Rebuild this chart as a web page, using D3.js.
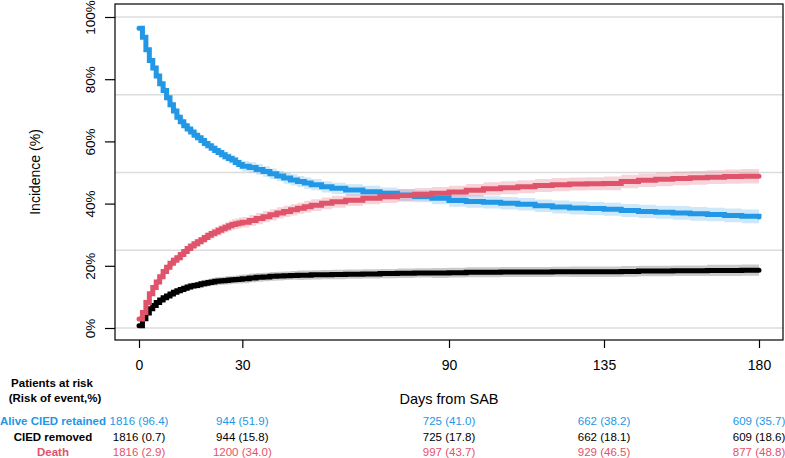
<!DOCTYPE html>
<html>
<head>
<meta charset="utf-8">
<script src="https://cdn.jsdelivr.net/npm/d3@7"></script>
<style>
  body { margin: 0; background: #fff; }
  svg { font-family: "Liberation Sans", Arial, Helvetica, sans-serif; }
</style>
</head>
<body>
<script>
const days = [0, 1, 2, 3, 4, 5, 6, 7, 8, 9, 10, 11, 12, 13, 14, 15, 16, 17, 18, 19, 20, 21, 22, 23, 24, 25, 26, 27, 28, 29, 30,
  32, 34, 36, 38, 40, 42, 44, 46, 48, 50, 53, 56, 60,
  65, 70, 75, 80, 85, 90, 95, 100, 105, 110, 115, 120, 125, 130, 135, 140, 145, 150, 155, 160, 165, 170, 175, 180]

// cumulative incidence (%) per state
const alive = [96.4, 93.5, 89.5, 86, 83.6, 81, 78.5, 76.4, 74, 71.8, 69.8, 67.8, 66.3, 65, 64, 63, 62, 61.2, 60.3, 59.3, 58.6, 57.8, 57.1, 56.4, 55.7, 55.1, 54.5, 54, 53.2, 52.6, 52.0,
  51.6, 51.0, 50.3, 49.6, 48.9, 48.2, 47.6, 47.1, 46.6, 46.1, 45.4, 44.9, 44.4,
  43.8, 43.3, 42.8, 42.3, 41.7, 41.0, 40.7, 40.4, 40.1, 39.8, 39.3, 38.9, 38.6, 38.4, 38.2, 37.8, 37.5, 37.2, 37.0, 36.7, 36.5, 36.2, 35.9, 35.7]
const removed = [0.7, 3.0, 4.8, 6.2, 7.2, 8.2, 9.0, 9.7, 10.3, 10.9, 11.5, 12.0, 12.4, 12.8, 13.2, 13.5, 13.7, 13.9, 14.2, 14.4, 14.6, 14.8, 15.0, 15.1, 15.2, 15.3, 15.4, 15.5, 15.6, 15.7, 15.8,
  16.1, 16.3, 16.4, 16.6, 16.7, 16.8, 16.9, 16.95, 17.0, 17.1, 17.15, 17.2, 17.3,
  17.4, 17.5, 17.6, 17.7, 17.7, 17.8, 17.9, 17.9, 18.0, 18.0, 18.0, 18.1, 18.1, 18.1, 18.1, 18.2, 18.3, 18.3, 18.4, 18.4, 18.5, 18.5, 18.6, 18.6]
const death = [2.9, 5.0, 8.2, 11.0, 13.0, 14.8, 16.5, 18.2, 19.5, 20.8, 21.8, 22.6, 23.6, 24.6, 25.6, 26.4, 27.1, 27.7, 28.4, 29.1, 29.8, 30.4, 30.9, 31.4, 31.9, 32.4, 32.9, 33.3, 33.5, 33.8, 34.0,
  34.6, 35.2, 35.8, 36.4, 37.0, 37.5, 38.0, 38.5, 39.0, 39.5, 40.1, 40.6, 41.1,
  41.7, 42.2, 42.6, 43.0, 43.3, 43.7, 44.3, 44.8, 45.1, 45.4, 45.8, 46.1, 46.3, 46.4, 46.5, 47.1, 47.5, 47.8, 48.1, 48.3, 48.5, 48.7, 48.8, 48.8]

// half width of the confidence band (%)
const aliveCI = [0.5, 0.6, 0.7, 0.8, 0.9, 1.0, 1.0, 1.1, 1.1, 1.2, 1.2, 1.2, 1.3, 1.3, 1.3, 1.4, 1.4, 1.4, 1.4, 1.5, 1.5, 1.5, 1.5, 1.5, 1.6, 1.6, 1.6, 1.6, 1.6, 1.6, 1.7,
  1.7, 1.7, 1.7, 1.7, 1.7, 1.8, 1.8, 1.8, 1.8, 1.8, 1.8, 1.8, 1.8,
  1.9, 1.9, 1.9, 1.9, 1.9, 2.0, 2.0, 2.0, 2.0, 2.0, 2.0, 2.1, 2.1, 2.1, 2.1, 2.1, 2.1, 2.1, 2.2, 2.2, 2.2, 2.2, 2.2, 2.2]
const removedCI = [0.3, 0.4, 0.5, 0.6, 0.7, 0.7, 0.8, 0.8, 0.9, 0.9, 1.0, 1.0, 1.0, 1.1, 1.1, 1.1, 1.1, 1.2, 1.2, 1.2, 1.2, 1.2, 1.3, 1.3, 1.3, 1.3, 1.3, 1.3, 1.3, 1.4, 1.4,
  1.4, 1.4, 1.4, 1.4, 1.4, 1.4, 1.4, 1.5, 1.5, 1.5, 1.5, 1.5, 1.5,
  1.5, 1.5, 1.5, 1.5, 1.6, 1.6, 1.6, 1.6, 1.6, 1.6, 1.6, 1.6, 1.7, 1.7, 1.7, 1.7, 1.7, 1.7, 1.7, 1.7, 1.8, 1.8, 1.8, 1.8]
const deathCI = [0.5, 0.6, 0.7, 0.8, 0.9, 1.0, 1.0, 1.1, 1.1, 1.2, 1.2, 1.3, 1.3, 1.3, 1.4, 1.4, 1.4, 1.5, 1.5, 1.5, 1.5, 1.6, 1.6, 1.6, 1.6, 1.6, 1.7, 1.7, 1.7, 1.7, 1.7,
  1.7, 1.8, 1.8, 1.8, 1.8, 1.8, 1.8, 1.8, 1.9, 1.9, 1.9, 1.9, 1.9,
  1.9, 2.0, 2.0, 2.0, 2.0, 2.0, 2.0, 2.1, 2.1, 2.1, 2.1, 2.1, 2.1, 2.1, 2.2, 2.2, 2.2, 2.2, 2.2, 2.2, 2.2, 2.3, 2.3, 2.3]

// axes
const xTicks = [0, 30, 90, 135, 180]
const yTicks = [0, 20, 40, 60, 80, 100]
const gridLines = [0, 25, 50, 75, 100]

// patients at risk table
const riskLabels = ['Alive CIED retained', 'CIED removed', 'Death']
const nAlive = [1816, 944, 725, 662, 609]
const pAlive = [96.4, 51.9, 41.0, 38.2, 35.7]
const nRemoved = [1816, 944, 725, 662, 609]
const pRemoved = [0.7, 15.8, 17.8, 18.1, 18.6]
const nDeath = [1816, 1200, 997, 929, 877]
const pDeath = [2.9, 34.0, 43.7, 46.5, 48.8]

const blue = '#2297E6'
const red = '#DF536B'
const black = '#000000'

const w = 785
const h = 458

const svg = d3.select('body')
  .append('svg')
  .attr('width', w)
  .attr('height', h)

const box = { left: 115, top: 4, right: 783, bottom: 340 }

const xScale = d3.scaleLinear().domain([0, 180]).range([139, 759])
const yScale = d3.scaleLinear().domain([0, 100]).range([328, 17])

// grid
svg.append('g')
  .selectAll('line')
  .data(gridLines)
  .enter()
  .append('line')
  .attr('x1', box.left)
  .attr('x2', box.right)
  .attr('y1', d => yScale(d))
  .attr('y2', d => yScale(d))
  .style('stroke', '#dcdcdc')
  .style('stroke-width', '1.5px')

const series = [
  { values: alive, ci: aliveCI, color: blue, band: blue, op: 0.22 },
  { values: removed, ci: removedCI, color: black, band: '#7a7a7a', op: 0.4 },
  { values: death, ci: deathCI, color: red, band: red, op: 0.25 }
]

const area = d3.area()
  .curve(d3.curveStepAfter)
  .x((d, i) => xScale(days[i]))
  .y0(d => yScale(d[0]))
  .y1(d => yScale(d[1]))

const line = d3.line()
  .curve(d3.curveStepAfter)
  .x((d, i) => xScale(days[i]))
  .y(d => yScale(d))

series.forEach(s => {
  svg.append('path')
    .datum(s.values.map((v, i) => [v - s.ci[i], v + s.ci[i]]))
    .attr('d', area)
    .style('fill', s.band)
    .style('fill-opacity', s.op)
})

series.forEach(s => {
  svg.append('path')
    .datum(s.values)
    .attr('d', line)
    .style('fill', 'none')
    .style('stroke', s.color)
    .style('stroke-width', '5px')
    .style('stroke-linecap', 'round')
})

// frame
svg.append('rect')
  .attr('x', box.left)
  .attr('y', box.top)
  .attr('width', box.right - box.left)
  .attr('height', box.bottom - box.top)
  .style('fill', 'none')
  .style('stroke', 'black')
  .style('stroke-width', '1.2px')

// x axis
const xAxis = d3.axisBottom(xScale)
  .tickValues(xTicks)
  .tickSize(8)
  .tickPadding(12)
  .tickSizeOuter(0)

const xg = svg.append('g')
  .attr('transform', `translate(0,${box.bottom})`)
  .call(xAxis)
xg.select('.domain').remove()
xg.selectAll('line').style('stroke-width', '1.2px')
xg.selectAll('text')
  .style('font-size', '14px')
  .style('font-family', '"Liberation Sans", Arial, sans-serif')
  .style('fill', 'black')

// y axis
const yAxis = d3.axisLeft(yScale)
  .tickValues(yTicks)
  .tickSize(10)
  .tickSizeOuter(0)
  .tickFormat(d => d + '%')

const yg = svg.append('g')
  .attr('transform', `translate(${box.left},0)`)
  .call(yAxis)
yg.select('.domain').remove()
yg.selectAll('line').style('stroke-width', '1.2px')
yg.selectAll('text')
  .attr('x', null)
  .attr('dy', '0.35em')
  .attr('transform', 'translate(-25,0) rotate(-90)')
  .attr('text-anchor', 'middle')
  .style('font-size', '13.5px')
  .style('font-family', '"Liberation Sans", Arial, sans-serif')
  .style('fill', 'black')

// axis titles
svg.append('text')
  .attr('transform', 'translate(40,172) rotate(-90)')
  .attr('text-anchor', 'middle')
  .style('font-size', '14px')
  .text('Incidence (%)')

svg.append('text')
  .attr('x', xScale(90))
  .attr('y', 404)
  .attr('text-anchor', 'middle')
  .style('font-size', '14.5px')
  .text('Days from SAB')

// risk table
svg.append('text')
  .attr('x', 52)
  .attr('y', 387)
  .attr('text-anchor', 'middle')
  .style('font-size', '11.5px')
  .style('font-weight', 'bold')
  .text('Patients at risk')

svg.append('text')
  .attr('x', 55)
  .attr('y', 402)
  .attr('text-anchor', 'middle')
  .style('font-size', '11.5px')
  .style('font-weight', 'bold')
  .text('(Risk of event,%)')

const rows = [
  { label: riskLabels[0], n: nAlive, p: pAlive, color: blue, y: 425 },
  { label: riskLabels[1], n: nRemoved, p: pRemoved, color: black, y: 441 },
  { label: riskLabels[2], n: nDeath, p: pDeath, color: red, y: 456 }
]

rows.forEach(r => {
  svg.append('text')
    .attr('x', 53)
    .attr('y', r.y)
    .attr('text-anchor', 'middle')
    .style('font-size', '11.5px')
    .style('font-weight', 'bold')
    .style('fill', r.color)
    .text(r.label)

  svg.append('g')
    .selectAll('text')
    .data(xTicks)
    .enter()
    .append('text')
    .attr('x', d => xScale(d))
    .attr('y', r.y)
    .attr('text-anchor', 'middle')
    .style('font-size', '11.5px')
    .style('fill', r.color)
    .text((d, i) => `${r.n[i]} (${r.p[i].toFixed(1)})`)
})
</script>
</body>
</html>
